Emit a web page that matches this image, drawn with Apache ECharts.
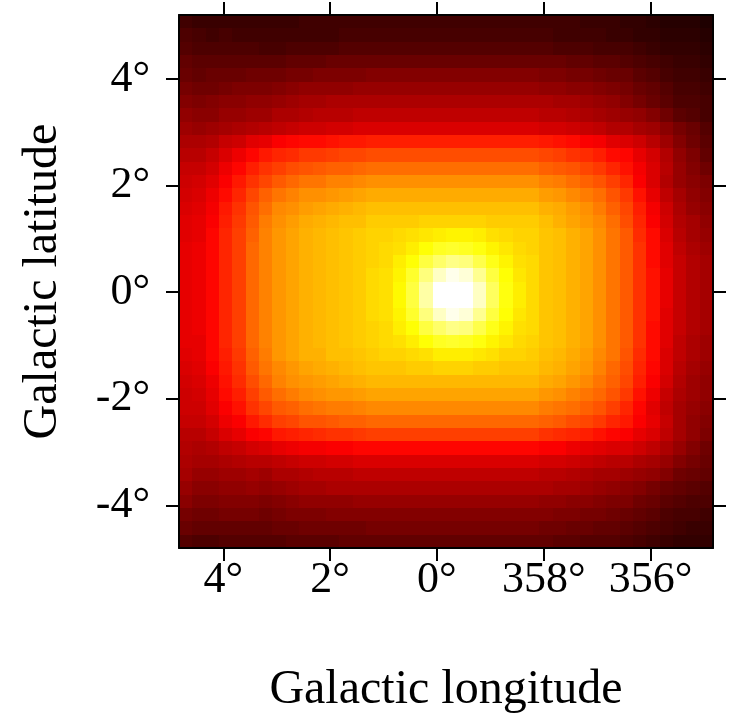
<!DOCTYPE html>
<html>
<head>
<meta charset="utf-8">
<script src="https://cdn.jsdelivr.net/npm/echarts@6/dist/echarts.min.js"></script>
<style>
  html, body { margin: 0; padding: 0; background: #ffffff; }
  #chart { width: 730px; height: 721px; }
</style>
</head>
<body>
<div id="chart"></div>
<script>
// Map extent (degrees): longitude offset from l = 0 (negative = 360 - |l|), latitude.
const lonMin = -5.17, lonMax = 4.83;
const latMin = -4.8, latMax = 5.2;
const binSize = 0.25;

// Cell centres: 40 longitude bins (left to right), 40 latitude bins (top to bottom).
const lonCenters = Array.from({ length: 40 }, (_, i) => +(lonMax - binSize * (i + 0.5)).toFixed(3));
const latCenters = Array.from({ length: 40 }, (_, j) => +(latMax - binSize * (j + 0.5)).toFixed(3));

// Tick positions
const lonTicks = [4, 2, 0, -2, -4];
const latTicks = [-4, -2, 0, 2, 4];

// Map brightness per cell (colour-scale percent), rows from b = +5.1° down to b = -4.7°.
const mapRows = [
  [8,7,7,7,7,7,7,7,7,8,8,8,8,8, 8,8,8,8,8,8,8,8,8,8,8,8,8, 8,8,8,7,7,7,6,6,5,4,4,4,3],
  [10,9,8,9,8,8,8,8,8,8,8,8,9,9, 9,9,9,9,9,9,9,9,9,9,9,9,9, 9,8,8,8,8,7,7,6,6,5,5,5,4],
  [11,10,10,10,10,10,9,9,10,10,10,10,11,11, 11,11,11,11,11,11,11,11,11,11,11,11,11, 11,10,10,10,9,9,9,8,7,6,6,6,5],
  [13,12,12,12,12,12,12,12,13,13,13,14,14,14, 14,14,14,14,14,14,14,14,14,14,14,14,14, 14,14,13,13,12,12,11,10,9,8,7,7,6],
  [14,13,14,14,14,15,15,15,16,16,17,17,17,17, 18,18,18,18,18,18,18,18,18,18,18,18,18, 17,17,16,16,15,14,14,12,11,9,8,8,7],
  [16,15,15,16,17,17,17,18,19,20,20,20,20,21, 21,21,21,21,21,21,21,21,21,21,21,21,21, 20,20,19,19,18,17,16,14,13,11,9,9,8],
  [18,17,18,19,19,20,20,21,22,23,23,24,24,24, 24,24,24,24,24,24,24,24,24,24,24,24,24, 24,23,23,22,21,20,18,16,14,12,10,10,9],
  [20,19,19,21,21,22,22,24,24,25,26,26,26,27, 27,27,27,27,27,27,27,27,27,27,27,27,27, 26,26,25,24,23,22,21,20,18,15,12,11,9],
  [22,21,22,23,24,25,26,27,28,29,29,30,30,31, 31,31,31,31,31,31,31,31,31,31,31,31,31, 30,30,29,28,27,25,25,23,22,19,16,14,11],
  [24,24,25,28,29,32,33,36,37,38,38,39,40,40, 41,41,41,41,41,41,41,41,41,41,41,41,41, 40,39,38,36,35,32,31,29,26,22,18,15,12],
  [26,26,28,31,34,37,40,42,43,45,45,46,47,47, 48,48,48,48,48,48,48,48,48,48,48,48,48, 47,46,44,43,41,38,37,33,30,25,20,17,13],
  [28,28,30,34,37,41,44,46,48,49,50,51,51,52, 53,53,53,53,53,53,53,53,53,53,53,53,53, 51,50,49,47,45,42,39,35,31,26,21,18,15],
  [29,30,32,36,40,44,47,50,52,54,54,56,56,57, 58,58,58,58,58,58,58,58,58,58,58,58,58, 56,55,53,51,49,46,42,36,31,25,21,19,17],
  [30,31,34,38,42,47,51,54,56,58,58,59,60,61, 62,62,62,62,62,62,62,62,62,62,62,62,62, 60,59,57,55,53,49,45,39,33,27,23,20,18],
  [31,32,35,40,44,49,53,57,58,60,61,62,63,64, 65,65,65,65,65,65,65,65,65,65,65,65,65, 63,62,60,58,55,51,47,41,35,29,24,21,19],
  [32,33,36,41,45,50,55,58,60,62,63,64,65,65, 67,67,67,67,68,68,68,68,68,67,67,67,67, 65,63,61,59,57,53,48,42,36,30,25,23,20],
  [32,33,37,42,46,51,56,59,61,63,64,65,66,67, 68,68,69,70,71,72,73,73,72,70,69,68,68, 66,65,63,61,58,54,50,43,38,31,26,23,21],
  [33,34,37,42,46,52,56,59,61,63,64,65,66,67, 68,69,70,72,75,78,79,78,76,73,71,69,68, 66,65,63,61,58,54,50,44,38,32,27,24,22],
  [33,34,37,42,46,52,56,59,61,63,64,65,66,67, 68,69,72,75,81,85,88,87,82,77,73,70,69, 66,65,63,61,58,54,50,44,38,32,28,25,23],
  [33,34,37,42,46,52,56,59,61,63,64,65,66,67, 69,70,73,79,87,94,98,96,89,81,75,71,69, 66,65,63,61,58,54,50,44,39,33,28,25,23],
  [33,34,37,42,46,52,56,59,61,63,64,65,66,67, 69,70,74,81,91,100,100,100,94,84,76,72,69, 66,65,63,61,58,54,50,44,39,33,28,25,23],
  [33,34,37,42,46,52,56,59,61,63,64,65,66,67, 69,70,74,81,91,100,100,100,94,84,76,72,69, 66,65,63,61,58,54,50,44,39,33,28,25,23],
  [33,34,37,42,46,52,56,59,61,63,64,65,66,67, 69,70,73,79,87,94,98,96,89,81,75,71,69, 66,65,63,61,58,54,50,44,39,32,28,25,23],
  [33,34,37,42,46,52,56,59,61,63,64,65,66,67, 68,69,72,75,81,85,88,87,82,77,73,70,69, 66,65,63,61,58,54,50,44,38,32,28,25,23],
  [33,33,37,42,46,52,56,59,61,63,64,65,66,67, 68,69,70,72,75,78,79,78,76,73,71,69,68, 66,65,63,61,58,54,50,44,38,32,27,24,22],
  [32,33,37,41,45,51,55,59,61,63,63,65,65,66, 67,68,68,69,70,72,72,72,71,70,68,68,67, 65,64,62,60,57,54,49,43,38,31,27,24,22],
  [31,32,36,40,44,50,54,57,59,61,62,63,64,65, 66,66,66,67,67,68,68,68,67,67,66,66,66, 64,63,61,59,56,52,48,42,37,31,26,23,21],
  [30,31,34,39,43,48,52,56,58,59,60,61,62,63, 64,64,64,64,64,64,64,64,64,64,64,64,64, 62,61,59,57,54,51,47,41,36,30,25,22,20],
  [29,30,33,38,41,46,50,53,55,57,58,59,59,60, 61,61,61,61,61,61,61,61,61,61,61,61,61, 59,58,56,54,52,49,45,39,34,28,24,22,20],
  [29,29,32,36,39,44,47,50,51,53,54,55,55,56, 57,57,57,57,57,57,57,57,57,57,57,57,57, 55,54,53,51,49,46,42,37,32,27,23,21,19],
  [28,28,30,34,36,40,43,46,47,49,49,50,51,51, 52,52,52,52,52,52,52,52,52,52,52,52,52, 51,50,48,47,45,42,40,36,33,28,23,20,18],
  [26,26,28,31,33,36,37,40,41,42,43,44,44,45, 46,46,46,46,46,46,46,46,46,46,46,46,46, 44,43,42,41,39,37,36,33,31,27,23,20,17],
  [25,24,25,27,28,30,31,33,34,35,35,36,36,37, 37,37,37,37,37,37,37,37,37,37,37,37,37, 36,36,34,33,32,31,31,29,27,24,21,18,15],
  [24,23,23,24,25,26,26,27,28,29,29,30,30,31, 31,31,31,31,31,31,31,31,31,31,31,31,31, 30,30,29,28,27,26,26,24,23,21,18,16,14],
  [23,21,21,22,22,23,22,24,24,25,26,26,26,27, 27,27,27,27,27,27,27,27,27,27,27,27,27, 26,26,25,24,23,23,22,21,20,18,15,14,13],
  [21,19,19,20,20,21,20,21,22,23,23,24,24,24, 24,24,24,24,24,24,24,24,24,24,24,24,24, 24,23,23,22,21,20,19,18,16,14,13,12,11],
  [19,17,17,18,18,18,17,18,19,20,20,20,20,21, 21,21,21,21,21,21,21,21,21,21,21,21,21, 20,20,19,19,18,17,17,15,14,12,11,10,10],
  [16,15,15,16,16,16,15,16,17,17,17,18,18,18, 18,18,18,18,18,18,18,18,18,18,18,18,18, 18,17,17,16,16,15,14,13,12,10,9,9,8],
  [14,13,13,13,13,13,13,14,14,15,15,15,15,15, 16,16,16,16,16,16,16,16,16,16,16,16,16, 15,15,14,14,13,13,12,11,10,9,8,7,7],
  [11,10,10,11,11,11,11,11,12,12,12,12,13,13, 13,13,13,13,13,13,13,13,13,13,13,13,13, 13,12,12,11,11,11,10,9,8,7,6,6,6]
];

// "hot" colour ramp: black -> red -> yellow -> white
const hotColors = [];
for (let k = 0; k <= 64; k++) {
  const t = k / 64;
  const r = Math.min(1, 0.0416 + (t / 0.365079) * 0.9584);
  const g = Math.min(1, Math.max(0, (t - 0.365079) / 0.380953));
  const b = Math.min(1, Math.max(0, (t - 0.746032) / 0.253968));
  hotColors.push('rgb(' + Math.round(r * 255) + ',' + Math.round(g * 255) + ',' + Math.round(b * 255) + ')');
}

const cells = [];
mapRows.forEach((row, j) => {
  row.forEach((v, i) => cells.push([lonCenters[i], latCenters[j], v]));
});

const serif = '"Liberation Serif", "Times New Roman", Times, serif';
const frameLine = { show: true, onZero: false, lineStyle: { color: '#000', width: 2 } };
const tickStyle = { show: true, inside: false, length: 13, lineStyle: { color: '#000', width: 2 } };
const lonLabel = v => (((v % 360) + 360) % 360) + '°';
const latLabel = v => v + '°';

const chart = echarts.init(document.getElementById('chart'), null, { renderer: 'canvas' });

chart.setOption({
  animation: false,
  backgroundColor: '#ffffff',
  grid: { left: 179, right: 17, top: 15, bottom: 173, containLabel: false },
  visualMap: {
    type: 'continuous',
    show: false,
    min: 0,
    max: 100,
    dimension: 2,
    seriesIndex: 0,
    inRange: { color: hotColors }
  },
  xAxis: [
    {
      type: 'value', position: 'bottom', min: lonMin, max: lonMax, inverse: true, z: 10,
      splitLine: { show: false },
      axisLine: frameLine,
      axisTick: Object.assign({}, tickStyle, { customValues: lonTicks }),
      axisLabel: {
        customValues: lonTicks, formatter: lonLabel, margin: 10,
        fontSize: 44, fontFamily: serif, color: '#000'
      },
      name: 'Galactic longitude', nameLocation: 'middle', nameGap: 118,
      nameTextStyle: { fontSize: 48, fontFamily: serif, color: '#000' }
    },
    {
      type: 'value', position: 'top', min: lonMin, max: lonMax, inverse: true, z: 10,
      splitLine: { show: false },
      axisLine: frameLine,
      axisTick: Object.assign({}, tickStyle, { customValues: lonTicks }),
      axisLabel: { show: false }
    }
  ],
  yAxis: [
    {
      type: 'value', position: 'left', min: latMin, max: latMax, z: 10,
      splitLine: { show: false },
      axisLine: frameLine,
      axisTick: Object.assign({}, tickStyle, { customValues: latTicks }),
      axisLabel: {
        customValues: latTicks, formatter: latLabel, margin: 29,
        fontSize: 44, fontFamily: serif, color: '#000'
      },
      name: 'Galactic latitude', nameLocation: 'middle', nameGap: 112, nameRotate: 90,
      nameTextStyle: { fontSize: 48, fontFamily: serif, color: '#000' }
    },
    {
      type: 'value', position: 'right', min: latMin, max: latMax, z: 10,
      splitLine: { show: false },
      axisLine: frameLine,
      axisTick: Object.assign({}, tickStyle, { customValues: latTicks }),
      axisLabel: { show: false }
    }
  ],
  series: [
    {
      type: 'custom',
      coordinateSystem: 'cartesian2d',
      xAxisIndex: 0,
      yAxisIndex: 0,
      silent: true,
      encode: { x: 0, y: 1 },
      data: cells,
      renderItem: function (params, api) {
        const lon = api.value(0);
        const lat = api.value(1);
        const a = api.coord([lon + binSize / 2, lat + binSize / 2]);
        const b = api.coord([lon - binSize / 2, lat - binSize / 2]);
        const x0 = Math.round(Math.min(a[0], b[0]));
        const x1 = Math.round(Math.max(a[0], b[0]));
        const y0 = Math.round(Math.min(a[1], b[1]));
        const y1 = Math.round(Math.max(a[1], b[1]));
        return {
          type: 'rect',
          shape: { x: x0, y: y0, width: x1 - x0, height: y1 - y0 },
          style: { fill: api.visual('color') }
        };
      }
    }
  ]
});
</script>
</body>
</html>
